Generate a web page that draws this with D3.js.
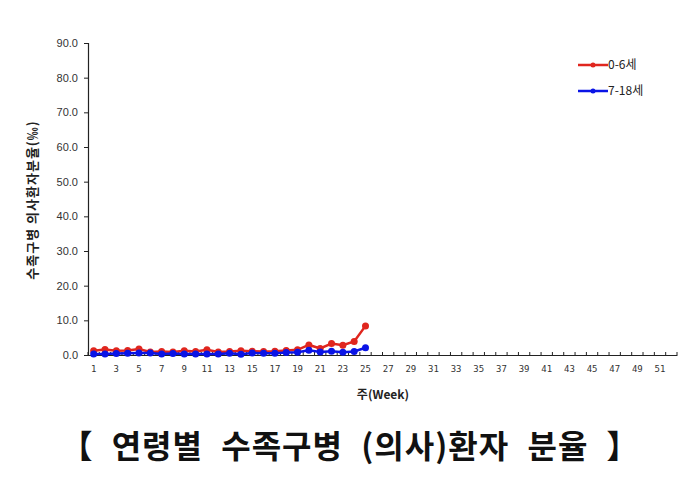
<!DOCTYPE html>
<html><head><meta charset="utf-8">
<script src="https://cdn.jsdelivr.net/npm/d3@7"></script>
<style>body{margin:0;background:#fff;} text{font-family:"Noto Sans CJK KR","Noto Sans",sans-serif;}</style>
</head><body>
<svg id="c" width="700" height="480"></svg>
<script>
const weeks = d3.range(1, 53);
const tickLabels = d3.range(1, 53, 2);
const yTicks = [0, 10, 20, 30, 40, 50, 60, 70, 80, 90];
const seriesNames = ["0-6세", "7-18세"];
const seriesColors = ["#e0261e", "#0a14e6"];
const age0to6 = [1.2, 1.6, 1.2, 1.3, 1.7, 0.9, 1.0, 0.9, 1.2, 1.0, 1.5, 0.9, 1.0, 1.2, 1.1, 1.0, 1.1, 1.3, 1.5, 2.9, 1.9, 3.3, 2.8, 3.9, 8.4];
const age7to18 = [0.3, 0.3, 0.4, 0.5, 0.6, 0.6, 0.3, 0.4, 0.3, 0.3, 0.3, 0.3, 0.5, 0.2, 0.6, 0.5, 0.5, 0.7, 0.8, 1.4, 0.9, 1.1, 0.8, 1.0, 2.1];

const svg = d3.select("#c");
const L = 88, R = 677, T = 43, B = 355;
const x = d3.scaleBand().domain(weeks).range([L, R]);
const y = d3.scaleLinear().domain([0, 90]).range([B, T]);

// y axis
const ya = svg.append("g").attr("transform", `translate(${L},0)`)
  .call(d3.axisLeft(y).tickValues(yTicks).tickFormat(d3.format(".1f")).tickSize(4));
ya.select(".domain").attr("stroke", "#222").attr("stroke-width", 1.2);
ya.selectAll(".tick line").attr("stroke", "#222");
ya.selectAll("text").attr("font-size", 11).attr("fill", "#333").attr("x", -10)
  .style("font-family", "'Liberation Sans', Arial, sans-serif");

// x axis
const xa = svg.append("g").attr("transform", `translate(0,${B})`)
  .call(d3.axisBottom(x).tickValues(tickLabels).tickSize(0));
xa.select(".domain").attr("stroke", "#222").attr("stroke-width", 1.2);
xa.selectAll("text").attr("font-size", 9).attr("fill", "#333").attr("dy", "1.6em")
  .style("font-family", "'DejaVu Sans Mono', monospace");
// category boundary ticks
svg.append("g").selectAll("line").data(weeks.concat([53])).join("line")
  .attr("x1", d => d === 53 ? R : x(d)).attr("x2", d => d === 53 ? R : x(d))
  .attr("y1", B - 3).attr("y2", B)
  .attr("stroke", "#222").attr("stroke-width", 1);

// axis titles
svg.append("text").attr("transform", `translate(37,200) rotate(-90)`)
  .attr("text-anchor", "middle").attr("font-size", 13).attr("font-weight", "bold").attr("fill", "#222")
  .attr("letter-spacing", 1)
  .text("수족구병 의사환자분율(‰)");
svg.append("text").attr("x", 383).attr("y", 399).attr("text-anchor", "middle")
  .attr("font-size", 12).attr("font-weight", "bold").attr("fill", "#222").text("주(Week)");

// series
const data = [age0to6, age7to18];
const line = d3.line().x((d, i) => x(weeks[i]) + x.bandwidth() / 2).y(d => y(d));
data.forEach((s, k) => {
  const g = svg.append("g");
  g.append("path").datum(s).attr("d", line).attr("fill", "none")
    .attr("stroke", seriesColors[k]).attr("stroke-width", 2.5);
  g.selectAll("circle").data(s).join("circle")
    .attr("cx", (d, i) => x(weeks[i]) + x.bandwidth() / 2).attr("cy", d => y(d))
    .attr("r", 3.5).attr("fill", seriesColors[k]);
});

// legend
seriesNames.forEach((n, k) => {
  const ly = 65 + k * 26;
  svg.append("line").attr("x1", 578).attr("x2", 608).attr("y1", ly).attr("y2", ly)
    .attr("stroke", seriesColors[k]).attr("stroke-width", 2.5);
  svg.append("circle").attr("cx", 593).attr("cy", ly).attr("r", 2.5).attr("fill", seriesColors[k]);
  svg.append("text").attr("x", 608).attr("y", ly + 4).attr("font-size", 12).attr("fill", "#222").text(n);
});

// title
svg.append("text").attr("x", 350).attr("y", 458).attr("text-anchor", "middle")
  .attr("font-size", 32).attr("font-weight", "bold").attr("fill", "#111")
  .attr("letter-spacing", 1).attr("word-spacing", 10)
  .text("【 연령별 수족구병 (의사)환자 분율 】");
</script>
</body></html>
